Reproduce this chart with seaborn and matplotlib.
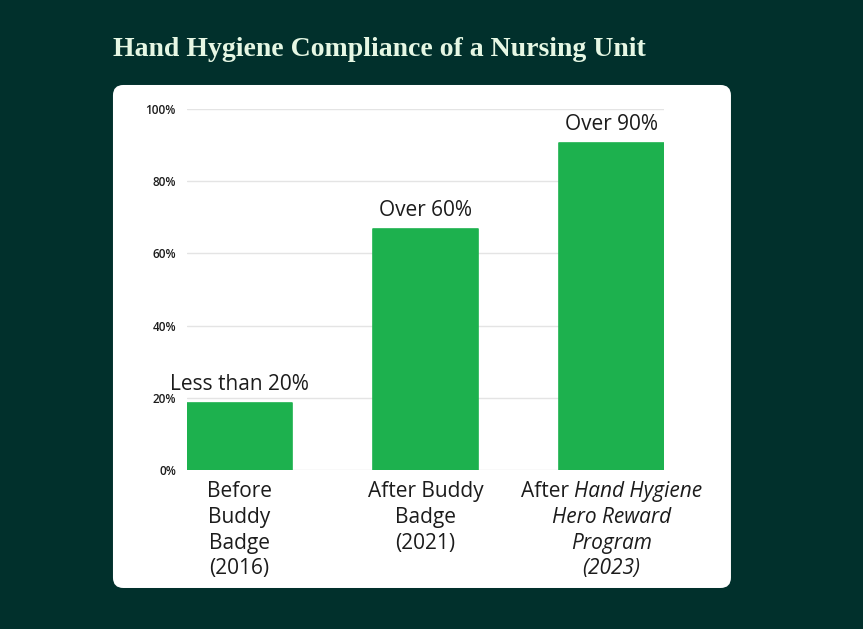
import numpy as np
import pandas as pd
import matplotlib.pyplot as plt
import seaborn as sns
from matplotlib.patches import FancyBboxPatch

# ---- data
categories = ["Before", "After Buddy", "After Hand Hygiene"]
compliance = [18.6, 66.8, 90.6]
bar_labels = ["Less than 20%", "Over 60%", "Over 90%"]
y_ticks = [0, 20, 40, 60, 80, 100]

BG = "#01302c"
GREEN = "#1db14e"
INK = "#1c1c1c"
FONT = "Open Sans"

sns.set_theme(style="white")
plt.rcParams["font.family"] = [FONT, "DejaVu Sans"]

df = pd.DataFrame({"stage": categories, "pct": compliance})

fig = plt.figure(figsize=(8.63, 6.29), dpi=100, facecolor=BG)

# white rounded card behind the plot
card = FancyBboxPatch((0.1309, 0.0652), 0.7161, 0.7997,
                      boxstyle="round,pad=0,rounding_size=0.012",
                      transform=fig.transFigure, facecolor="white",
                      edgecolor="none", zorder=-5, mutation_aspect=8.63 / 6.29)
fig.patches.append(card)

fig.text(0.131, 0.921, "Hand Hygiene Compliance of a Nursing Unit",
         family="Liberation Serif", fontweight="bold", fontsize=20,
         color="#e6f7e4", va="center", ha="left")

ax = fig.add_axes([0.2167, 0.2528, 0.5527, 0.5739])
ax.set_zorder(2)
ax.set_facecolor("white")
sns.barplot(data=df, x="stage", y="pct", color=GREEN, width=0.566,
            saturation=1, ax=ax, zorder=3)
# slightly softened bar corners
for p in ax.patches:
    p.set_edgecolor(GREEN)
    p.set_linewidth(1.2)
    p.set_joinstyle("round")
ax.set_xlim(-0.283, 2.283)
ax.set_ylim(0, 100)
ax.set_yticks(y_ticks)
ax.set_yticklabels([f"{t}%" for t in y_ticks], fontsize=8.5, color=INK,
                   fontweight="semibold")
ax.yaxis.grid(True, color="#e4e4e4", linewidth=1, zorder=0)
ax.set_axisbelow(True)
ax.tick_params(axis="y", length=0, pad=8)
for s in ax.spines.values():
    s.set_visible(False)
ax.set_xlabel("")
ax.set_ylabel("")
ax.set_xticks([0, 1, 2])
ax.set_xticklabels([])
ax.tick_params(axis="x", length=0)

ax.bar_label(ax.containers[0], labels=bar_labels, padding=6,
             fontsize=15, color=INK)

# x category labels (multi-line, third one partly italic)
lab_kw = dict(fontsize=15, color=INK, ha="center", va="top",
              linespacing=1.3, xycoords=("data", "axes fraction"),
              textcoords="offset points")
ax.annotate("Before\nBuddy\nBadge\n(2016)", xy=(0, 0), xytext=(0, -8), **lab_kw)
ax.annotate("After Buddy\nBadge\n(2021)", xy=(1, 0), xytext=(0, -8), **lab_kw)

# "After" upright + "Hand Hygiene" italic, centred together on bar 3
t1 = ax.annotate("After ", xy=(2, 0), xytext=(0, -8), **{**lab_kw, "ha": "left"})
t2 = ax.annotate("Hand Hygiene", xy=(2, 0), xytext=(0, -8), style="italic",
                 **{**lab_kw, "ha": "left"})
probe = ax.annotate("Ag\nAg", xy=(2, 0), xytext=(0, -8), **lab_kw)
fig.canvas.draw()
r = fig.canvas.get_renderer()
pt = 72 / fig.dpi
w1 = t1.get_window_extent(r).width * pt
w2 = t2.get_window_extent(r).width * pt
step = (probe.get_window_extent(r).height - t1.get_window_extent(r).height) * pt
probe.remove()
total = w1 + w2
t1.set_position((-total / 2, -8))
t2.set_position((-total / 2 + w1, -8))
ax.annotate("Hero Reward\nProgram\n(2023)", xy=(2, 0), xytext=(0, -8 - step),
            style="italic", **lab_kw)

fig.savefig("out.png", dpi=100, facecolor=BG)
